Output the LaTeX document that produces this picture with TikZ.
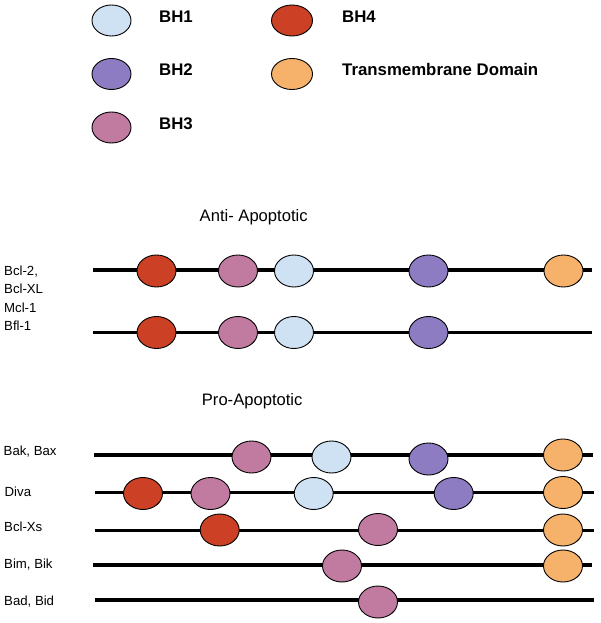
\documentclass[tikz,border=0pt]{standalone}
\usepackage{fontspec}
\setmainfont{Liberation Sans}
\usetikzlibrary{shapes.geometric}
\definecolor{bhone}{HTML}{CFE2F3}
\definecolor{bhtwo}{HTML}{8E7CC3}
\definecolor{bhthree}{HTML}{C27BA0}
\definecolor{bhfour}{HTML}{CC4125}
\definecolor{tmd}{HTML}{F6B26B}
\tikzset{
  dom/.style={ellipse, draw=black, line width=0.9pt, minimum width=39pt, minimum height=32pt, inner sep=0pt},
  d1/.style={dom, fill=bhone},
  d2/.style={dom, fill=bhtwo},
  d3/.style={dom, fill=bhthree},
  d4/.style={dom, fill=bhfour},
  dt/.style={dom, fill=tmd},
  chain/.style={line width=3.1pt, draw=black},
  legtext/.style={anchor=base west, inner sep=0pt, font=\fontsize{16.8}{19}\selectfont\bfseries},
  title/.style={anchor=base west, inner sep=0pt, font=\fontsize{16.6}{19}\selectfont},
  lab/.style={anchor=base west, inner sep=0pt, font=\fontsize{13.2}{15}\selectfont}
}
\begin{document}
\begin{tikzpicture}[x=1pt, y=-1pt]
\useasboundingbox (0,0) rectangle (600,623);
\fill[white] (0,0) rectangle (600,623);
% legend
\node[d1, minimum width=39pt, minimum height=31pt] (l1) at (111.5,20.5) {};
\node[d2, minimum width=39pt, minimum height=31pt] (l2) at (111.5,74) {};
\node[d3, minimum width=39pt, minimum height=31pt] (l3) at (111.5,127.5) {};
\node[d4, minimum width=41pt, minimum height=31pt] (l4) at (292,20.5) {};
\node[dt, minimum width=41pt, minimum height=31pt] (l5) at (292,74) {};
\node[legtext] (t1) at (159,22.5) {BH1};
\node[legtext] (t2) at (159,76) {BH2};
\node[legtext] (t3) at (159,129.5) {BH3};
\node[legtext] (t4) at (342,22.3) {BH4};
\node[legtext] (t5) at (342,76) {Transmembrane Domain};
% titles
\node[title] (anti) at (199.5,221.7) {Anti- Apoptotic};
\node[title] (pro) at (201.7,405) {Pro-Apoptotic};
% labels
\node[lab] (n1) at (4,275) {Bcl-2,};
\node[lab] (n2) at (4,293.5) {Bcl-XL};
\node[lab] (n3) at (4,312) {Mcl-1};
\node[lab] (n4) at (4,330.5) {Bfl-1};
\node[lab] (n5) at (3.5,455.5) {Bak, Bax};
\node[lab] (n6) at (4.5,496.3) {Diva};
\node[lab] (n7) at (4,531.7) {Bcl-Xs};
\node[lab] (n8) at (4,568.7) {Bim, Bik};
\node[lab] (n9) at (4,605.3) {Bad, Bid};
% chain end points
\coordinate (a1s) at (93,270);   \coordinate (a1e) at (592,270);
\coordinate (a2s) at (93,332.7); \coordinate (a2e) at (592,332.7);
\coordinate (p1s) at (94,455);   \coordinate (p1e) at (592.7,455);
\coordinate (p2s) at (95,492.7); \coordinate (p2e) at (594,492.7);
\coordinate (p3s) at (95,530.7); \coordinate (p3e) at (594,530.7);
\coordinate (p4s) at (93,565);   \coordinate (p4e) at (591.7,565);
\coordinate (p5s) at (95,600);   \coordinate (p5e) at (594,600);
\draw[chain] (a1s) -- (a1e);
\draw[chain] (a2s) -- (a2e);
\draw[chain] (p1s) -- (p1e);
\draw[chain] (p2s) -- (p2e);
\draw[chain] (p3s) -- (p3e);
\draw[chain] (p4s) -- (p4e);
\draw[chain] (p5s) -- (p5e);
% anti-apoptotic row 1
\node[d4] (a1r) at (156.5,271) {};
\node[d3] (a1p) at (238,271) {};
\node[d1] (a1b) at (294,271) {};
\node[d2] (a1v) at (428.5,271) {};
\node[dt] (a1o) at (563.5,271) {};
% anti-apoptotic row 2
\node[d4] (a2r) at (156.5,332.5) {};
\node[d3] (a2p) at (238,332.5) {};
\node[d1] (a2b) at (294,332.5) {};
\node[d2] (a2v) at (428.5,332.5) {};
% Bak, Bax
\node[d3] (p1p) at (251.5,457) {};
\node[d1] (p1b) at (331.5,457) {};
\node[d2] (p1v) at (428.5,459) {};
\node[dt] (p1o) at (563,455) {};
% Diva
\node[d4] (p2r) at (143,493.5) {};
\node[d3] (p2p) at (210.5,493.5) {};
\node[d1] (p2b) at (313.7,493.5) {};
\node[d2] (p2v) at (453.7,493.5) {};
\node[dt] (p2o) at (563,492.5) {};
% Bcl-Xs
\node[d4] (p3r) at (219.7,530) {};
\node[d3] (p3p) at (378,529.5) {};
\node[dt] (p3o) at (563,530) {};
% Bim, Bik
\node[d3] (p4p) at (342,566) {};
\node[dt] (p4o) at (563,566) {};
% Bad, Bid
\node[d3] (p5p) at (378,602) {};
\end{tikzpicture}
\end{document}
